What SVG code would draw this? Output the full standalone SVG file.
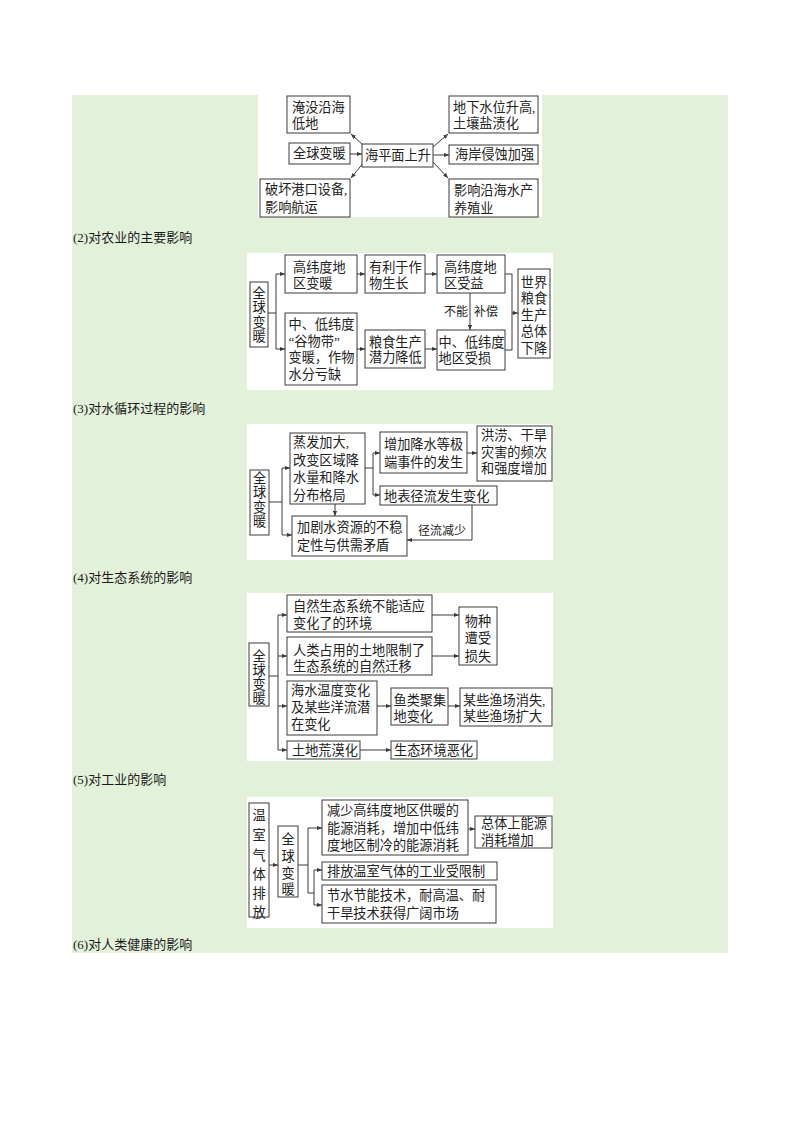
<svg xmlns="http://www.w3.org/2000/svg" width="800" height="1132" viewBox="0 0 800 1132">
<style>
.bg{fill:#e3f1db}
.panel{fill:#ffffff}
.box{fill:#ffffff;stroke:#3a3a3a;stroke-width:1}
.t{font-family:"Liberation Serif","Noto Sans CJK SC",serif;font-size:13.2px;fill:#222}
.v{font-family:"Liberation Serif","Noto Sans CJK SC",serif;font-size:13.2px;fill:#222;text-anchor:middle}
.s{font-family:"Liberation Serif","Noto Sans CJK SC",serif;font-size:12px;fill:#222}
.h{font-family:"Liberation Serif","Noto Sans CJK SC",serif;font-size:13px;fill:#1a1a1a}
.c{fill:none;stroke:#3a3a3a;stroke-width:1}
.a{fill:none;stroke:#3a3a3a;stroke-width:1;marker-end:url(#arr)}
</style>
<defs>
<marker id="arr" viewBox="0 0 6 6" refX="6" refY="3" markerWidth="5" markerHeight="5" markerUnits="userSpaceOnUse" orient="auto">
<path d="M0,0.5 L6,3 L0,5.5 Z" fill="#3a3a3a"/>
</marker>
</defs>
<rect x="0" y="0" width="800" height="1132" fill="#ffffff"/>
<rect class="bg" x="72" y="95" width="656" height="858"/>
<rect class="panel" x="258" y="95" width="284" height="122"/>
<rect class="panel" x="247" y="253" width="306" height="137"/>
<rect class="panel" x="247" y="424" width="306" height="136"/>
<rect class="panel" x="247" y="593" width="306" height="168"/>
<rect class="panel" x="247" y="797" width="306" height="131"/>

<g id="headings">
<text class="h" x="73" y="242">(2)对农业的主要影响</text>
<text class="h" x="73" y="413">(3)对水循环过程的影响</text>
<text class="h" x="73" y="582">(4)对生态系统的影响</text>
<text class="h" x="73" y="784">(5)对工业的影响</text>
<text class="h" x="73" y="949">(6)对人类健康的影响</text>
</g>

<g id="connectors">
<!-- panel 1 -->
<line class="a" x1="350" y1="154" x2="362" y2="154"/>
<line class="a" x1="364" y1="146" x2="351" y2="134"/>
<line class="a" x1="364" y1="162" x2="351" y2="178"/>
<line class="a" x1="433" y1="147" x2="448" y2="134"/>
<line class="a" x1="433" y1="155" x2="449" y2="155"/>
<line class="a" x1="433" y1="162" x2="448" y2="178"/>
<!-- panel 2 -->
<polyline class="c" points="268,313 276,313"/>
<line class="c" x1="276" y1="274" x2="276" y2="349"/>
<line class="a" x1="276" y1="274" x2="285" y2="274"/>
<line class="a" x1="276" y1="349" x2="285" y2="349"/>
<line class="a" x1="357" y1="274" x2="365" y2="274"/>
<line class="a" x1="425" y1="274" x2="437" y2="274"/>
<line class="a" x1="357" y1="349" x2="365" y2="349"/>
<line class="a" x1="425" y1="349" x2="437" y2="349"/>
<line class="a" x1="470" y1="293" x2="470" y2="330"/>
<polyline class="c" points="505,274 512,274 512,350 505,350"/>
<line class="a" x1="512" y1="313" x2="518" y2="313"/>
<!-- panel 3 -->
<line class="c" x1="269" y1="502" x2="282" y2="502"/>
<line class="c" x1="282" y1="468" x2="282" y2="535"/>
<line class="a" x1="282" y1="468" x2="290" y2="468"/>
<line class="a" x1="282" y1="535" x2="292" y2="535"/>
<line class="c" x1="365" y1="468" x2="373" y2="468"/>
<line class="c" x1="373" y1="453" x2="373" y2="495"/>
<line class="a" x1="373" y1="453" x2="380" y2="453"/>
<line class="a" x1="373" y1="495" x2="380" y2="495"/>
<line class="a" x1="467" y1="453" x2="477" y2="453"/>
<line class="a" x1="335" y1="504" x2="335" y2="516"/>
<polyline class="a" points="472,505 472,540 407,540"/>
<!-- panel 4 -->
<line class="c" x1="269" y1="676" x2="278" y2="676"/>
<line class="c" x1="278" y1="615" x2="278" y2="750"/>
<line class="a" x1="278" y1="615" x2="287" y2="615"/>
<line class="a" x1="278" y1="656" x2="287" y2="656"/>
<line class="a" x1="278" y1="706" x2="287" y2="706"/>
<line class="a" x1="278" y1="750" x2="287" y2="750"/>
<line class="a" x1="432" y1="615" x2="459" y2="615"/>
<line class="a" x1="432" y1="656" x2="459" y2="656"/>
<line class="a" x1="377" y1="706" x2="391" y2="706"/>
<line class="a" x1="448" y1="706" x2="460" y2="706"/>
<line class="a" x1="360" y1="750" x2="391" y2="750"/>
<!-- panel 5 -->
<line class="a" x1="269" y1="865" x2="278" y2="865"/>
<line class="c" x1="298" y1="865" x2="308" y2="865"/>
<polyline class="c" points="308,828 308,893 314,893"/>
<line class="c" x1="314" y1="870" x2="314" y2="905"/>
<line class="a" x1="308" y1="828" x2="322" y2="828"/>
<line class="a" x1="314" y1="870" x2="322" y2="870"/>
<line class="a" x1="314" y1="905" x2="322" y2="905"/>
<line class="a" x1="468" y1="829" x2="475" y2="829"/>
</g>

<!-- panel 1 nodes -->
<g id="p1-yanmo"><rect class="box" x="287" y="96" width="63" height="37"/><text class="t" x="292" y="112">淹没沿海</text><text class="t" x="292" y="128">低地</text></g>
<g id="p1-quanqiu"><rect class="box" x="289" y="143" width="61" height="21"/><text class="t" x="293" y="158">全球变暖</text></g>
<g id="p1-haipingmian"><rect class="box" x="362" y="144" width="71" height="23"/><text class="t" x="365" y="160">海平面上升</text></g>
<g id="p1-pohuai"><rect class="box" x="260" y="179" width="90" height="38"/><text class="t" x="265" y="194">破坏港口设备,</text><text class="t" x="265" y="212">影响航运</text></g>
<g id="p1-dixiashui"><rect class="box" x="449" y="96" width="89" height="37"/><text class="t" x="453" y="112">地下水位升高,</text><text class="t" x="453" y="128">土壤盐渍化</text></g>
<g id="p1-haian"><rect class="box" x="449" y="145" width="89" height="19"/><text class="t" x="455" y="159">海岸侵蚀加强</text></g>
<g id="p1-yingxiang"><rect class="box" x="449" y="179" width="89" height="38"/><text class="t" x="454" y="195">影响沿海水产</text><text class="t" x="454" y="213">养殖业</text></g>

<!-- panel 2 nodes -->
<g id="p2-quanqiu"><rect class="box" x="250" y="282" width="18" height="65"/><text class="v" x="259" y="298">全</text><text class="v" x="259" y="312">球</text><text class="v" x="259" y="327">变</text><text class="v" x="259" y="341">暖</text></g>
<g id="p2-gaowei"><rect class="box" x="285" y="255" width="72" height="38"/><text class="t" x="293" y="272">高纬度地</text><text class="t" x="293" y="288">区变暖</text></g>
<g id="p2-youli"><rect class="box" x="365" y="255" width="60" height="38"/><text class="t" x="369" y="272">有利于作</text><text class="t" x="369" y="288">物生长</text></g>
<g id="p2-shouyi"><rect class="box" x="437" y="255" width="68" height="38"/><text class="t" x="444" y="272">高纬度地</text><text class="t" x="444" y="288">区受益</text></g>
<g id="p2-shijie"><rect class="box" x="518" y="269" width="32" height="89"/><text class="v" x="534" y="287">世界</text><text class="v" x="534" y="303">粮食</text><text class="v" x="534" y="320">生产</text><text class="v" x="534" y="336">总体</text><text class="v" x="534" y="353">下降</text></g>
<g id="p2-zhongdi"><rect class="box" x="285" y="313" width="72" height="72"/><text class="t" x="288.5" y="329">中、低纬度</text><text class="t" x="288.5" y="345.5">“谷物带”</text><text class="t" x="288.5" y="362">变暖，作物</text><text class="t" x="288.5" y="378.5">水分亏缺</text></g>
<g id="p2-liangshi"><rect class="box" x="365" y="330" width="60" height="38"/><text class="t" x="369" y="347">粮食生产</text><text class="t" x="369" y="362">潜力降低</text></g>
<g id="p2-shousun"><rect class="box" x="437" y="330" width="68" height="40"/><text class="t" x="438.5" y="347">中、低纬度</text><text class="t" x="438.5" y="363">地区受损</text></g>
<g id="p2-labels"><text class="s" x="456" y="316" text-anchor="middle">不能</text><text class="s" x="486" y="316" text-anchor="middle">补偿</text></g>

<!-- panel 3 nodes -->
<g id="p3-quanqiu"><rect class="box" x="250" y="470" width="19" height="65"/><text class="v" x="259.5" y="483">全</text><text class="v" x="259.5" y="497">球</text><text class="v" x="259.5" y="511.5">变</text><text class="v" x="259.5" y="526">暖</text></g>
<g id="p3-zhengfa"><rect class="box" x="290" y="433" width="75" height="71"/><text class="t" x="293" y="447">蒸发加大,</text><text class="t" x="293" y="464.5">改变区域降</text><text class="t" x="293" y="482">水量和降水</text><text class="t" x="293" y="499.5">分布格局</text></g>
<g id="p3-zengjia"><rect class="box" x="380" y="432" width="87" height="41"/><text class="t" x="384" y="449">增加降水等极</text><text class="t" x="384" y="467">端事件的发生</text></g>
<g id="p3-honglao"><rect class="box" x="477" y="426" width="75" height="55"/><text class="t" x="481" y="440">洪涝、干旱</text><text class="t" x="481" y="456.5">灾害的频次</text><text class="t" x="481" y="473">和强度增加</text></g>
<g id="p3-dibiao"><rect class="box" x="380" y="486" width="117" height="19"/><text class="t" x="384" y="500.5">地表径流发生变化</text></g>
<g id="p3-jiaju"><rect class="box" x="292" y="516" width="115" height="40"/><text class="t" x="297" y="532">加剧水资源的不稳</text><text class="t" x="297" y="550">定性与供需矛盾</text></g>
<g id="p3-labels"><text class="s" x="442" y="535" text-anchor="middle">径流减少</text></g>

<!-- panel 4 nodes -->
<g id="p4-quanqiu"><rect class="box" x="249" y="643" width="20" height="63"/><text class="v" x="259" y="660.5">全</text><text class="v" x="259" y="674.5">球</text><text class="v" x="259" y="688.5">变</text><text class="v" x="259" y="702.5">暖</text></g>
<g id="p4-ziran"><rect class="box" x="287" y="595" width="145" height="37"/><text class="t" x="293" y="611">自然生态系统不能适应</text><text class="t" x="293" y="628">变化了的环境</text></g>
<g id="p4-renlei"><rect class="box" x="287" y="637" width="145" height="38"/><text class="t" x="293" y="655">人类占用的土地限制了</text><text class="t" x="293" y="671">生态系统的自然迁移</text></g>
<g id="p4-wuzhong"><rect class="box" x="459" y="607" width="38" height="58"/><text class="v" x="478" y="626">物种</text><text class="v" x="478" y="643">遭受</text><text class="v" x="478" y="661">损失</text></g>
<g id="p4-haishui"><rect class="box" x="287" y="681" width="90" height="54"/><text class="t" x="291" y="695">海水温度变化</text><text class="t" x="291" y="712">及某些洋流潜</text><text class="t" x="291" y="729">在变化</text></g>
<g id="p4-yulei"><rect class="box" x="391" y="688" width="57" height="37"/><text class="t" x="393.5" y="705">鱼类聚集</text><text class="t" x="393.5" y="721">地变化</text></g>
<g id="p4-yuchang"><rect class="box" x="460" y="688" width="92" height="38"/><text class="t" x="463" y="705">某些渔场消失,</text><text class="t" x="463" y="721">某些渔场扩大</text></g>
<g id="p4-huangmo"><rect class="box" x="287" y="741" width="73" height="18"/><text class="t" x="292" y="755">土地荒漠化</text></g>
<g id="p4-ehua"><rect class="box" x="391" y="741" width="86" height="18"/><text class="t" x="394" y="755">生态环境恶化</text></g>

<!-- panel 5 nodes -->
<g id="p5-wenshi"><rect class="box" x="249" y="803" width="20" height="114"/><text class="v" x="259" y="820">温</text><text class="v" x="259" y="840">室</text><text class="v" x="259" y="860">气</text><text class="v" x="259" y="878.5">体</text><text class="v" x="259" y="897.5">排</text><text class="v" x="259" y="917">放</text></g>
<g id="p5-quanqiu"><rect class="box" x="278" y="826" width="20" height="71"/><text class="v" x="288" y="844">全</text><text class="v" x="288" y="861">球</text><text class="v" x="288" y="878">变</text><text class="v" x="288" y="894">暖</text></g>
<g id="p5-jianshao"><rect class="box" x="322" y="800" width="146" height="55"/><text class="t" x="327" y="815">减少高纬度地区供暖的</text><text class="t" x="327" y="833">能源消耗，增加中低纬</text><text class="t" x="327" y="850">度地区制冷的能源消耗</text></g>
<g id="p5-zongti"><rect class="box" x="475" y="816" width="77" height="32"/><text class="t" x="481" y="828">总体上能源</text><text class="t" x="481" y="845">消耗增加</text></g>
<g id="p5-paifang"><rect class="box" x="322" y="862" width="175" height="18"/><text class="t" x="327" y="876">排放温室气体的工业受限制</text></g>
<g id="p5-jieshui"><rect class="box" x="322" y="885" width="174" height="38"/><text class="t" x="327" y="900">节水节能技术，耐高温、耐</text><text class="t" x="327" y="918">干旱技术获得广阔市场</text></g>
</svg>
